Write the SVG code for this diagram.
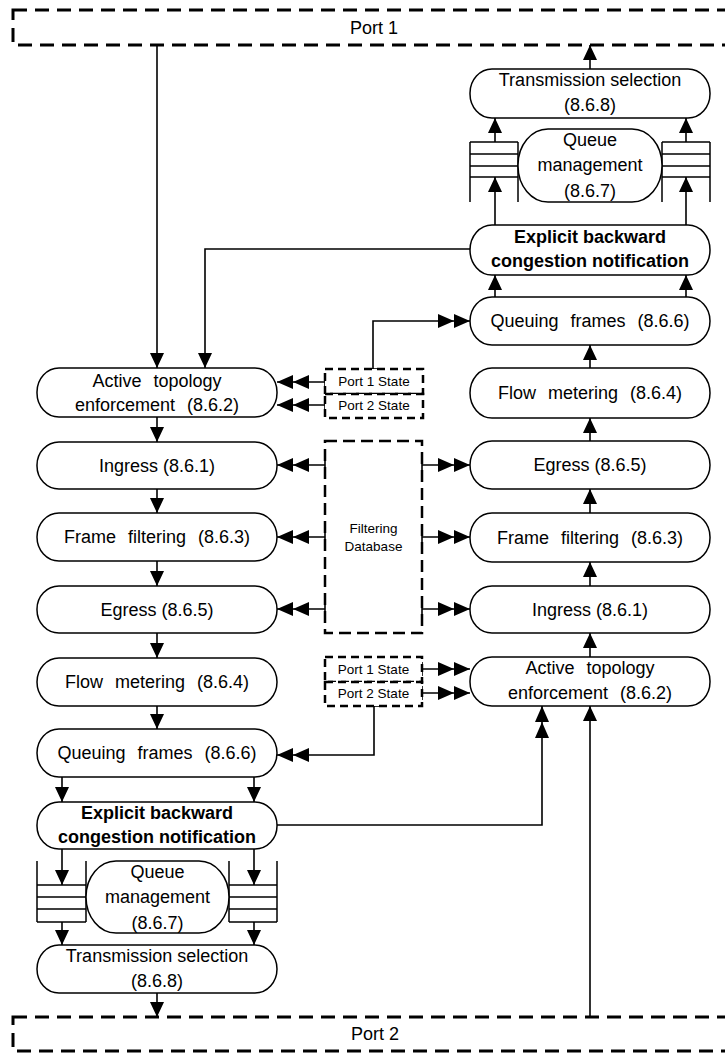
<svg xmlns="http://www.w3.org/2000/svg" width="725" height="1053" viewBox="0 0 725 1053">
<style>
.node{fill:#fff;stroke:#000;stroke-width:1.5}
.port{fill:none;stroke:#000;stroke-width:3;stroke-dasharray:14 8}
.st{fill:#fff;stroke:#000;stroke-width:2.5;stroke-dasharray:8 5}
.db{fill:none;stroke:#000;stroke-width:2.5;stroke-dasharray:12 6}
.q{fill:none;stroke:#000;stroke-width:1.5}
.c{fill:none;stroke:#000;stroke-width:1.6}
.t{font-family:"Liberation Sans",Arial,sans-serif;font-size:18px;text-anchor:middle;fill:#000}
.b{font-weight:bold}
.s{font-size:13.5px}
.ws{word-spacing:7px}
</style>
<defs>
<marker id="a" markerUnits="userSpaceOnUse" viewBox="0 0 15 14" refX="15" refY="7" markerWidth="15" markerHeight="14" orient="auto"><path d="M0,0 L15,7 L0,14 Z" fill="#000"/></marker>
<marker id="d" markerUnits="userSpaceOnUse" viewBox="0 0 32 14" refX="32" refY="7" markerWidth="32" markerHeight="14" orient="auto"><path d="M0,0 L16,7 L0,14 Z M16,0 L32,7 L16,14 Z" fill="#000"/></marker>
<marker id="k" markerUnits="userSpaceOnUse" viewBox="0 0 2 14" refX="1" refY="7" markerWidth="2" markerHeight="14" orient="auto"><path d="M1,0 V14" stroke="#000" stroke-width="1.6"/></marker>
</defs>

<g id="port1"><rect class="port" x="13" y="10" width="740" height="35"/><text class="t" x="374" y="34">Port 1</text></g>
<g id="port2"><rect class="port" x="13" y="1017" width="740" height="34"/><text class="t" x="375" y="1040">Port 2</text></g>

<g id="connectors">
<path class="c" d="M157,45 V368" marker-end="url(#a)"/>
<path class="c" d="M470,249 H205 V368" marker-end="url(#a)"/>
<path class="c" d="M157,417 V442" marker-end="url(#a)"/>
<path class="c" d="M157,489 V513" marker-end="url(#a)"/>
<path class="c" d="M157,561 V586" marker-end="url(#a)"/>
<path class="c" d="M157,633 V658" marker-end="url(#a)"/>
<path class="c" d="M157,706 V729" marker-end="url(#a)"/>
<path class="c" d="M62,777 V802" marker-end="url(#a)"/>
<path class="c" d="M254,777 V802" marker-end="url(#a)"/>
<path class="c" d="M62,849 V885" marker-end="url(#a)"/>
<path class="c" d="M254,849 V885" marker-end="url(#a)"/>
<path class="c" d="M62,922 V945" marker-end="url(#a)"/>
<path class="c" d="M254,922 V945" marker-end="url(#a)"/>
<path class="c" d="M157,993 V1017" marker-end="url(#a)"/>
<path class="c" d="M590,1017 V706" marker-end="url(#a)"/>
<path class="c" d="M590,657 V633" marker-end="url(#a)"/>
<path class="c" d="M590,586 V562" marker-end="url(#a)"/>
<path class="c" d="M590,513 V489" marker-end="url(#a)"/>
<path class="c" d="M590,441 V418" marker-end="url(#a)"/>
<path class="c" d="M590,368 V345" marker-end="url(#a)"/>
<path class="c" d="M495,297 V275" marker-end="url(#a)"/>
<path class="c" d="M686,297 V275" marker-end="url(#a)"/>
<path class="c" d="M495,225 V177" marker-end="url(#a)"/>
<path class="c" d="M686,225 V177" marker-end="url(#a)"/>
<path class="c" d="M495,142 V118" marker-end="url(#a)"/>
<path class="c" d="M686,142 V118" marker-end="url(#a)"/>
<path class="c" d="M590,69 V45" marker-end="url(#a)"/>
<path class="c" d="M277,825 H542 V706" marker-end="url(#d)"/>
<path class="c" d="M325,382 H277" marker-start="url(#k)" marker-end="url(#d)"/>
<path class="c" d="M325,405 H277" marker-start="url(#k)" marker-end="url(#d)"/>
<path class="c" d="M373,369 V321 H470" marker-start="url(#k)" marker-end="url(#d)"/>
<path class="c" d="M325,465 H277" marker-start="url(#k)" marker-end="url(#d)"/>
<path class="c" d="M325,537 H277" marker-start="url(#k)" marker-end="url(#d)"/>
<path class="c" d="M325,609 H277" marker-start="url(#k)" marker-end="url(#d)"/>
<path class="c" d="M422,465 H470" marker-start="url(#k)" marker-end="url(#d)"/>
<path class="c" d="M422,537 H470" marker-start="url(#k)" marker-end="url(#d)"/>
<path class="c" d="M422,609 H470" marker-start="url(#k)" marker-end="url(#d)"/>
<path class="c" d="M422,669 H470" marker-start="url(#k)" marker-end="url(#d)"/>
<path class="c" d="M422,693 H470" marker-start="url(#k)" marker-end="url(#d)"/>
<path class="c" d="M374,706 V755 H277" marker-start="url(#k)" marker-end="url(#d)"/>
</g>

<g id="l-ate"><rect class="node" x="37" y="368" width="240" height="49" rx="22" ry="24"/><text class="t ws" x="157" y="387">Active topology</text><text class="t ws" x="157" y="411">enforcement (8.6.2)</text></g>
<g id="l-ingress"><rect class="node" x="37" y="442" width="240" height="47" rx="22" ry="23"/><text class="t" x="157" y="472">Ingress (8.6.1)</text></g>
<g id="l-ff"><rect class="node" x="37" y="513" width="240" height="48" rx="22" ry="24"/><text class="t ws" x="157" y="543">Frame filtering (8.6.3)</text></g>
<g id="l-egress"><rect class="node" x="37" y="586" width="240" height="47" rx="22" ry="23"/><text class="t" x="157" y="616">Egress (8.6.5)</text></g>
<g id="l-fm"><rect class="node" x="37" y="658" width="240" height="48" rx="22" ry="24"/><text class="t ws" x="157" y="688">Flow metering (8.6.4)</text></g>
<g id="l-qf"><rect class="node" x="37" y="729" width="240" height="48" rx="22" ry="24"/><text class="t ws" x="157" y="759">Queuing frames (8.6.6)</text></g>
<g id="l-ebcn"><rect class="node" x="37" y="802" width="240" height="47" rx="22" ry="23"/><text class="t b" x="157" y="819">Explicit backward</text><text class="t b" x="157" y="843">congestion notification</text></g>
<g id="l-queues"><path class="q" d="M37,861 V922 M86,861 V922 M37,885 H86 M37,897 H86 M37,909 H86 M37,922 H86 M229,861 V922 M277,861 V922 M229,885 H277 M229,897 H277 M229,909 H277 M229,922 H277"/></g>
<g id="l-qm"><rect class="node" x="86" y="861" width="143" height="72" rx="30" ry="36"/><text class="t" x="157.5" y="878">Queue</text><text class="t" x="157.5" y="903">management</text><text class="t" x="157.5" y="929">(8.6.7)</text></g>
<g id="l-ts"><rect class="node" x="37" y="945" width="240" height="48" rx="22" ry="24"/><text class="t" x="157" y="962">Transmission selection</text><text class="t" x="157" y="987">(8.6.8)</text></g>

<g id="r-ts"><rect class="node" x="470" y="69" width="240" height="49" rx="22" ry="24"/><text class="t" x="590" y="86">Transmission selection</text><text class="t" x="590" y="111">(8.6.8)</text></g>
<g id="r-queues"><path class="q" d="M470,142 V202 M518,142 V202 M470,142 H518 M470,154 H518 M470,166 H518 M470,177 H518 M662,142 V202 M710,142 V202 M662,142 H710 M662,154 H710 M662,166 H710 M662,177 H710"/></g>
<g id="r-qm"><rect class="node" x="518" y="129" width="144" height="73" rx="30" ry="36"/><text class="t" x="590" y="146">Queue</text><text class="t" x="590" y="171">management</text><text class="t" x="590" y="197">(8.6.7)</text></g>
<g id="r-ebcn"><rect class="node" x="470" y="225" width="240" height="50" rx="22" ry="25"/><text class="t b" x="590" y="243">Explicit backward</text><text class="t b" x="590" y="267">congestion notification</text></g>
<g id="r-qf"><rect class="node" x="470" y="297" width="240" height="48" rx="22" ry="24"/><text class="t ws" x="590" y="327">Queuing frames (8.6.6)</text></g>
<g id="r-fm"><rect class="node" x="470" y="368" width="240" height="50" rx="22" ry="25"/><text class="t ws" x="590" y="399">Flow metering (8.6.4)</text></g>
<g id="r-egress"><rect class="node" x="470" y="441" width="240" height="48" rx="22" ry="24"/><text class="t" x="590" y="471">Egress (8.6.5)</text></g>
<g id="r-ff"><rect class="node" x="470" y="513" width="240" height="49" rx="22" ry="24"/><text class="t ws" x="590" y="544">Frame filtering (8.6.3)</text></g>
<g id="r-ingress"><rect class="node" x="470" y="586" width="240" height="47" rx="22" ry="23"/><text class="t" x="590" y="616">Ingress (8.6.1)</text></g>
<g id="r-ate"><rect class="node" x="470" y="657" width="240" height="49" rx="22" ry="24"/><text class="t ws" x="590" y="674">Active topology</text><text class="t ws" x="590" y="699">enforcement (8.6.2)</text></g>

<g id="state-top-1"><rect class="st" x="325" y="369" width="98" height="25"/><text class="t s" x="374" y="386">Port 1 State</text></g>
<g id="state-top-2"><rect class="st" x="325" y="394" width="98" height="24"/><text class="t s" x="374" y="410">Port 2 State</text></g>
<g id="fdb"><rect class="db" x="325" y="441" width="97" height="192"/><text class="t s" x="373.5" y="533">Filtering</text><text class="t s" x="373.5" y="551">Database</text></g>
<g id="state-bot-1"><rect class="st" x="325" y="657" width="97" height="25"/><text class="t s" x="373.5" y="674">Port 1 State</text></g>
<g id="state-bot-2"><rect class="st" x="325" y="682" width="97" height="24"/><text class="t s" x="373.5" y="698">Port 2 State</text></g>
</svg>
